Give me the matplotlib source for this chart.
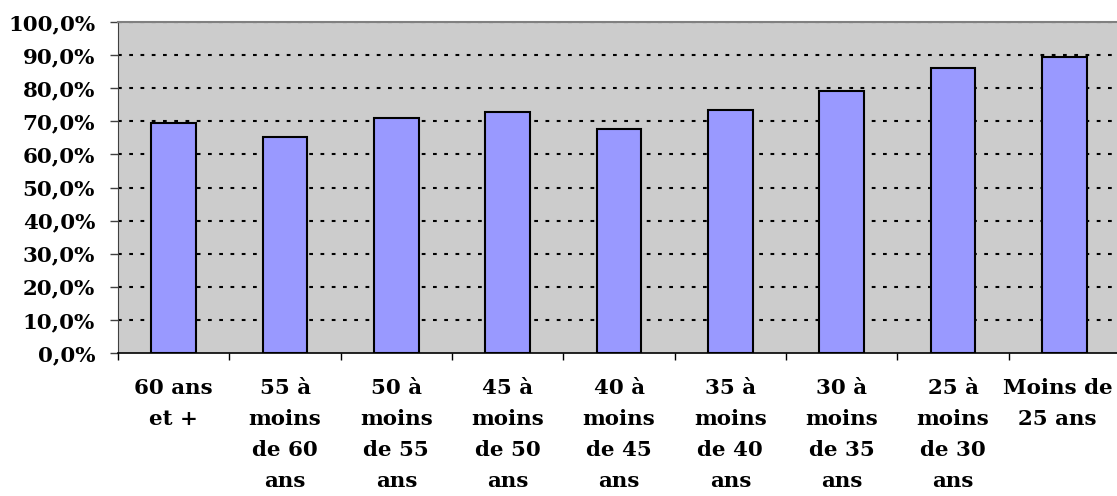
import matplotlib
matplotlib.use("Agg")
import matplotlib.pyplot as plt
import matplotlib.transforms as mtransforms
from matplotlib.ticker import FuncFormatter

# Share of respondents by age group
categories = [
    "60 ans\net +",
    "55 à\nmoins\nde 60\nans",
    "50 à\nmoins\nde 55\nans",
    "45 à\nmoins\nde 50\nans",
    "40 à\nmoins\nde 45\nans",
    "35 à\nmoins\nde 40\nans",
    "30 à\nmoins\nde 35\nans",
    "25 à\nmoins\nde 30\nans",
    "Moins de\n25 ans",
]
values = [69.5, 65.3, 71.1, 72.8, 67.6, 73.4, 79.2, 86.0, 89.3]
y_ticks = [0, 10, 20, 30, 40, 50, 60, 70, 80, 90, 100]

W, H = 1117, 496
fig = plt.figure(figsize=(W / 100, H / 100), dpi=100)
left, right, top, bottom = 118, 1120, 22, 353
ax = fig.add_axes([left / W, 1 - bottom / H, (right - left) / W, (bottom - top) / H])
ax.set_facecolor("#CCCCCC")

x = list(range(len(values)))
ax.bar(x, values, width=0.4, color="#9999FF", edgecolor="black", linewidth=1.5, zorder=3)

ax.set_xlim(-0.5, len(values) - 0.5)
ax.set_ylim(0, 100)

# dashed horizontal gridlines behind the bars
for yv in y_ticks[1:]:
    ax.axhline(yv, color="black", linewidth=1.5, linestyle=(0, (1.8, 3.6)), zorder=2)

family = "DejaVu Serif"
size = 15.4

ax.set_yticks(y_ticks)
ax.yaxis.set_major_formatter(FuncFormatter(lambda v, p: f"{v:.1f}%".replace(".", ",")))
ax.tick_params(axis="y", direction="out", length=6, width=1, color="#404040", pad=10.5)
for lbl in ax.get_yticklabels():
    lbl.set_family(family); lbl.set_weight("bold"); lbl.set_fontsize(size)

# category boundaries carry the tick marks; labels sit at bar centres
ax.set_xticks([i - 0.5 for i in range(len(values) + 1)])
ax.set_xticklabels([])
ax.tick_params(axis="x", direction="out", length=5, width=1, color="black")
ax.set_xticks(x, minor=True)
ax.set_xticklabels(categories, minor=True, fontfamily=family, fontweight="bold",
                   fontsize=size, linespacing=1.68, va="top")
ax.tick_params(axis="x", which="minor", length=0, pad=18)

# keep the last, widest label inside the figure
last = ax.get_xticklabels(minor=True)[-1]
last.set_transform(last.get_transform() +
                   mtransforms.ScaledTranslation(-7 / 100, 0, fig.dpi_scale_trans))

ax.spines["top"].set_color("#808080")
ax.spines["top"].set_linewidth(1.5)
ax.spines["left"].set_color("#404040")
ax.spines["right"].set_visible(False)
ax.spines["bottom"].set_color("black")
ax.spines["bottom"].set_linewidth(1.2)

fig.savefig("out.png", dpi=100)
